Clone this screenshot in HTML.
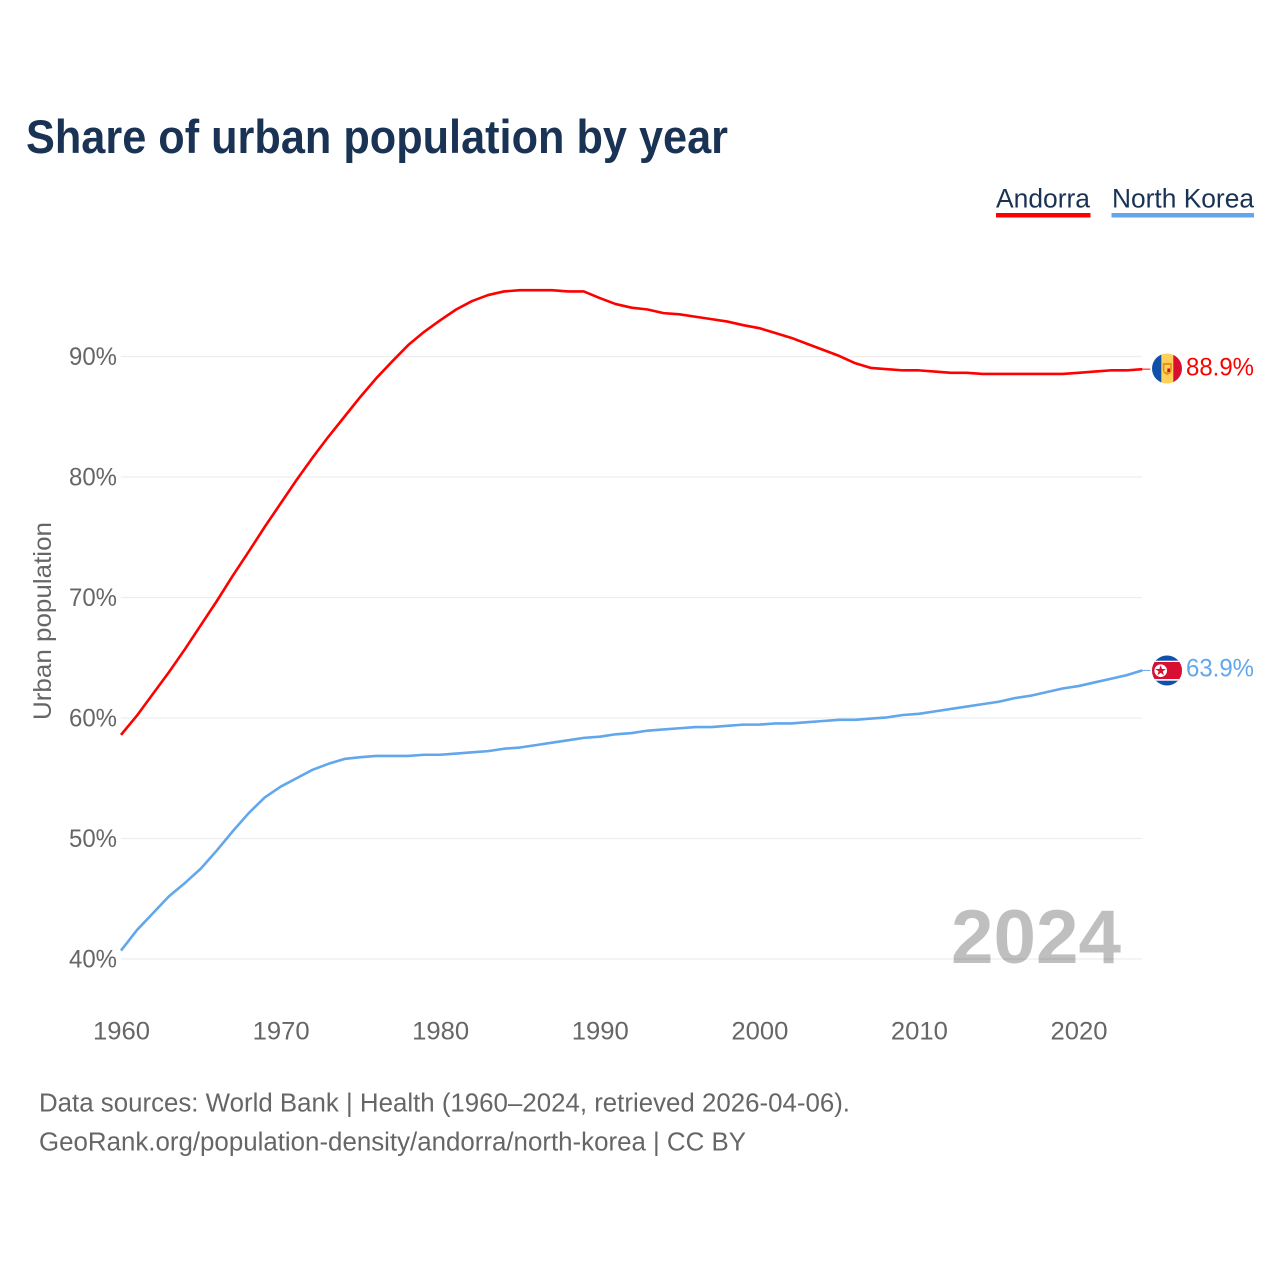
<!DOCTYPE html>
<html lang="en">
<head>
<meta charset="utf-8">
<title>Share of urban population by year</title>
<style>
  html, body { margin: 0; padding: 0; background: #fff; }
  svg { display: block; font-family: "Liberation Sans", sans-serif; }
</style>
</head>
<body>
<svg id="chart" xmlns="http://www.w3.org/2000/svg" width="1280" height="1280" viewBox="0 0 1280 1280">
  <defs>
    <clipPath id="clip-ad"><circle cx="1167" cy="368.5" r="15"/></clipPath>
    <clipPath id="clip-kp"><circle cx="1167" cy="670.5" r="15"/></clipPath>
  </defs>
  <rect width="1280" height="1280" fill="#fff"/>
  <text x="26" y="153" font-size="47" font-weight="700" fill="#1a3354" textLength="702" lengthAdjust="spacingAndGlyphs">Share of urban population by year</text>

  <g>
    <text x="996" y="207.500" font-size="27" fill="#1a3354" textLength="94" lengthAdjust="spacingAndGlyphs">Andorra</text>
    <rect x="996" y="213" width="94.500" height="4.500" fill="#ff0000"/>
  </g>
  <g>
    <text x="1112" y="207.500" font-size="27" fill="#1a3354" textLength="142" lengthAdjust="spacingAndGlyphs">North Korea</text>
    <rect x="1111.500" y="213" width="142.500" height="4.500" fill="#62a6ec"/>
  </g>

  <g id="grid"></g>
  <g id="y-ticks"></g>
  <g id="x-ticks"></g>
  <text transform="translate(51,720) rotate(-90)" x="0" y="0" font-size="25" fill="#666" textLength="198" lengthAdjust="spacingAndGlyphs">Urban population</text>

  <text x="1121" y="963" text-anchor="end" font-size="76" font-weight="700" fill="#000" fill-opacity="0.25" textLength="170" lengthAdjust="spacingAndGlyphs">2024</text>

  <g id="series"></g>

  <g clip-path="url(#clip-ad)">
    <rect x="1152" y="353" width="9.500" height="31" fill="#0f50a8"/>
    <rect x="1161.300" y="353" width="12.200" height="31" fill="#fed05a"/>
    <rect x="1173.300" y="353" width="9" height="31" fill="#d80f30"/>
    <path d="M1162.800 363h9v7q0 3.500-4.500 5q-4.500-1.500-4.500-5z" fill="#e8901c"/>
    <rect x="1164.500" y="365" width="5.600" height="7" fill="#fed05a"/>
    <rect x="1167.300" y="368.500" width="2.800" height="3.500" fill="#c8102e"/>
  </g>
  <g clip-path="url(#clip-kp)">
    <rect x="1152" y="655" width="30" height="31" fill="#0f50a8"/>
    <rect x="1152" y="660.700" width="30" height="20" fill="#fff"/>
    <rect x="1152" y="662" width="30" height="17" fill="#d80f30"/>
    <circle cx="1160.700" cy="670.700" r="6.300" fill="#fff"/>
    <polygon points="1160.700,665.200 1162,669 1166,669 1162.800,671.400 1164,675.200 1160.700,672.900 1157.400,675.200 1158.600,671.400 1155.400,669 1159.400,669" fill="#d80f30"/>
  </g>
  <text id="end-label-ad" x="1186" y="375.500" font-size="25" fill="#ff0000" textLength="68" lengthAdjust="spacingAndGlyphs"></text>
  <text id="end-label-kp" x="1186" y="676.500" font-size="25" fill="#62a6ec" textLength="68" lengthAdjust="spacingAndGlyphs"></text>

  <text x="39" y="1111.500" font-size="25.500" fill="#666" textLength="811" lengthAdjust="spacingAndGlyphs">Data sources: World Bank | Health (1960–2024, retrieved 2026-04-06).</text>
  <text x="39" y="1150.500" font-size="25.500" fill="#666" textLength="707" lengthAdjust="spacingAndGlyphs">GeoRank.org/population-density/andorra/north-korea | CC BY</text>
</svg>
<script>
const startYear = 1960;
const andorraValues = [58.6,60.2,62.0,63.8,65.7,67.7,69.7,71.8,73.8,75.85,77.8,79.75,81.6,83.35,85.0,86.65,88.2,89.6,90.95,92.05,93.0,93.9,94.6,95.1,95.4,95.5,95.5,95.5,95.4,95.4,94.85,94.35,94.05,93.9,93.6,93.5,93.3,93.1,92.9,92.6,92.35,91.95,91.55,91.05,90.55,90.05,89.45,89.05,88.95,88.85,88.85,88.75,88.65,88.65,88.55,88.55,88.55,88.55,88.55,88.55,88.65,88.75,88.85,88.85,88.95];
const northKoreaValues = [40.7,42.4,43.8,45.2,46.3,47.5,49.0,50.6,52.1,53.4,54.3,55.0,55.7,56.2,56.6,56.75,56.85,56.85,56.85,56.95,56.95,57.05,57.15,57.25,57.45,57.55,57.75,57.95,58.15,58.35,58.45,58.65,58.75,58.95,59.05,59.15,59.25,59.25,59.35,59.45,59.45,59.55,59.55,59.65,59.75,59.85,59.85,59.95,60.05,60.25,60.35,60.55,60.75,60.95,61.15,61.35,61.65,61.85,62.15,62.45,62.65,62.95,63.25,63.55,63.95];
const yTickValues = [40,50,60,70,80,90];
const xTickValues = [1960,1970,1980,1990,2000,2010,2020];
const andorraEndLabel = "88.9%";
const northKoreaEndLabel = "63.9%";

const NS = "http://www.w3.org/2000/svg";
function xScale(year) { return 121 + (year - 1960) * (957.5 / 60); }
function yScale(pct) { return 959 - (pct - 40) * (602.5 / 50); }
function make(tag, parent, attrs) {
  const el = document.createElementNS(NS, tag);
  for (const k in attrs) el.setAttribute(k, attrs[k]);
  parent.appendChild(el);
  return el;
}

const grid = document.getElementById("grid");
const yTicks = document.getElementById("y-ticks");
yTickValues.forEach(function (v) {
  const line = make("line", grid, { x1: 121, x2: 1142, y1: yScale(v), y2: yScale(v), stroke: "#ededed", "stroke-width": 1.2 });
  
  
  const label = make("text", yTicks, { x: 117, y: yScale(v) + 8.5, "text-anchor": "end", "font-size": 25, fill: "#666", textLength: 48, lengthAdjust: "spacingAndGlyphs" });
  label.textContent = v + "%";
  
  
});

const xTicks = document.getElementById("x-ticks");
xTickValues.forEach(function (v) {
  const label = make("text", xTicks, { x: xScale(v) + 0.5, y: 1039.5, "text-anchor": "middle", "font-size": 25, fill: "#666", textLength: 57, lengthAdjust: "spacingAndGlyphs" });
  label.textContent = v;
  
  
});

function drawSeries(values, color, lineName, leaderName) {
  const series = document.getElementById("series");
  const pts = values.map(function (v, i) { return xScale(startYear + i).toFixed(2) + "," + yScale(v).toFixed(2); });
  const path = make("polyline", series, { points: pts.join(" "), fill: "none", stroke: color, "stroke-width": 2.6, "stroke-linejoin": "round" });
  
  
  const last = values[values.length - 1];
  const lastX = xScale(startYear + values.length - 1);
  const leader = make("line", series, { x1: lastX, x2: lastX + 8, y1: yScale(last), y2: yScale(last), stroke: color, "stroke-width": 1 });
  
  
}
drawSeries(andorraValues, "#ff0000", "line-andorra", "leader-andorra");
drawSeries(northKoreaValues, "#62a6ec", "line-north-korea", "leader-north-korea");

document.getElementById("end-label-ad").textContent = andorraEndLabel;
document.getElementById("end-label-kp").textContent = northKoreaEndLabel;
</script>
</body>
</html>
